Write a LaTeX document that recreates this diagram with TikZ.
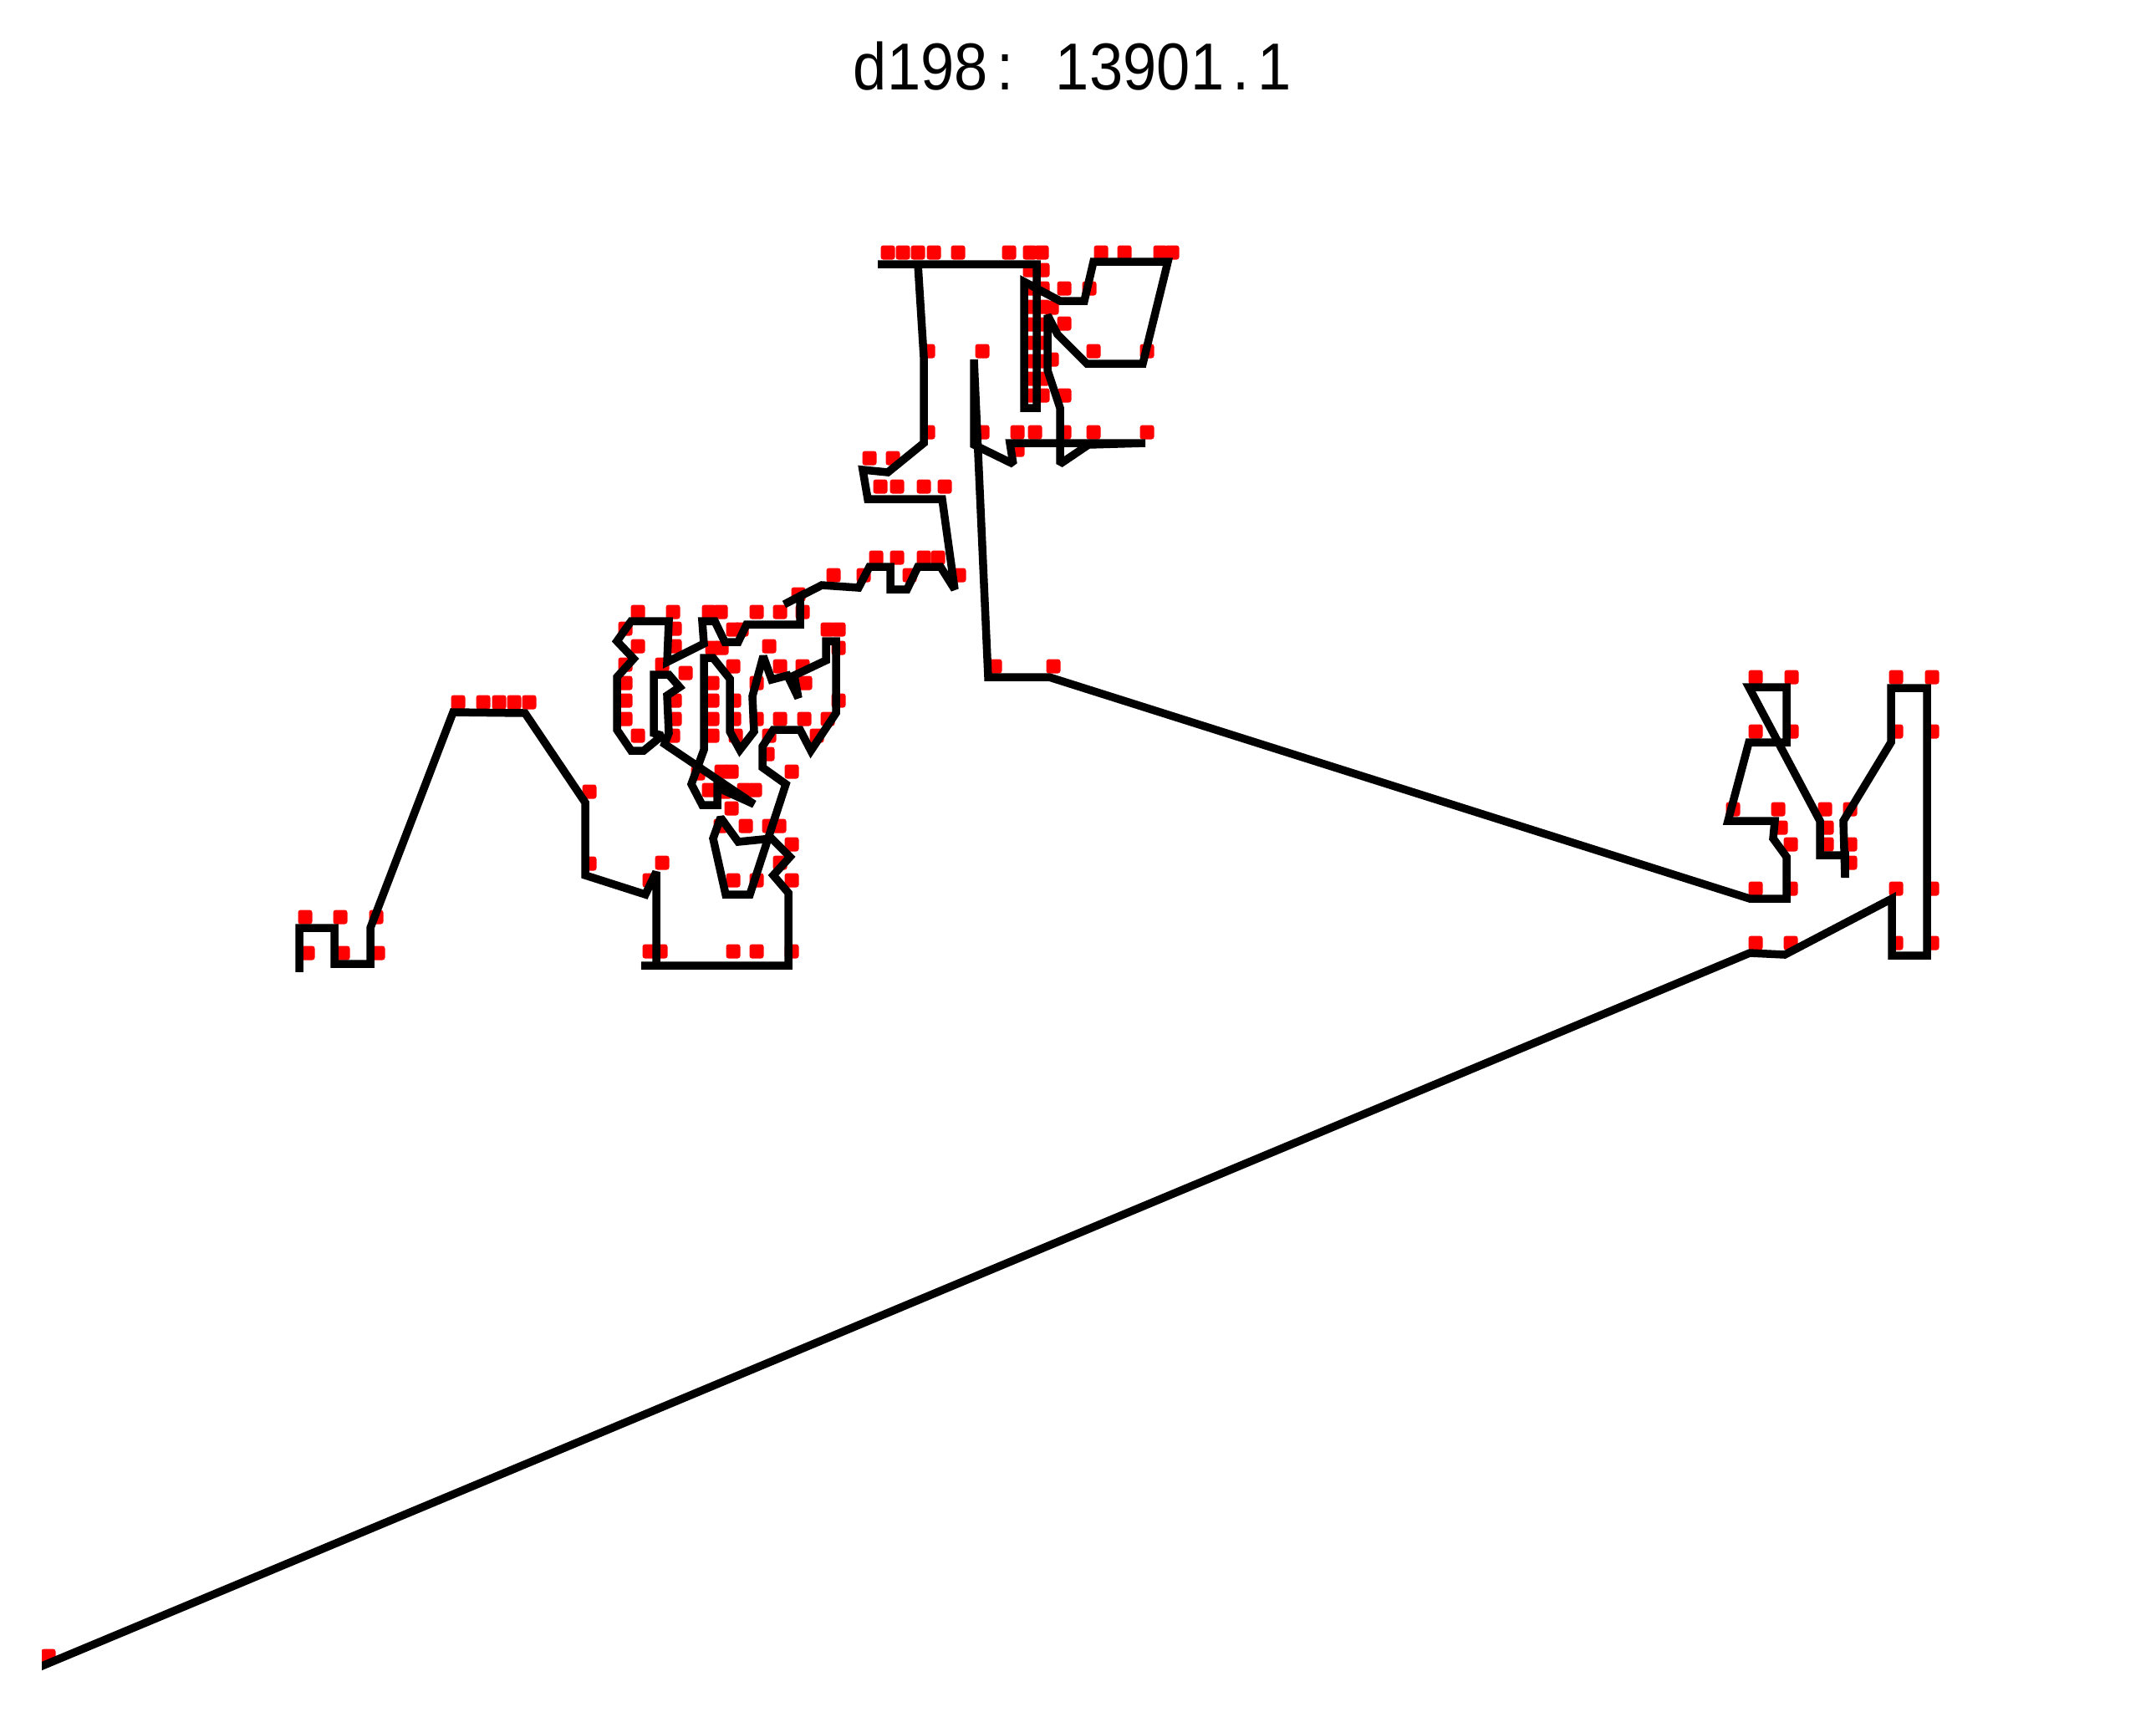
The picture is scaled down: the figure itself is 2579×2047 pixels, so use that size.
\documentclass[tikz,border=0pt]{standalone}
\usepackage{fontspec}
\setmainfont{Liberation Sans}
\usetikzlibrary{calc}

\tikzset{
  tour/.style={line width=0.095cm, line cap=rect, line join=miter, miter limit=2},
  city/.style={fill=red, rounded corners=0.03cm},
}
\newcommand\tch[1]{\makebox[0.443cm]{#1}}

\begin{document}
\begin{tikzpicture}[x=0.01cm,y=-0.01cm]
    \useasboundingbox (0,0) rectangle (2579,2047);
    \node [anchor=base, inner sep=0pt, font=\fontsize{22.6}{27}\selectfont] (title) at (1283,107)
      {\scalebox{0.91}[1]{\tch{d}\tch{1}\tch{9}\tch{8}\tch{:}\tch{ }\tch{1}\tch{3}\tch{9}\tch{0}\tch{1}\tch{.}\tch{1}}};
    \begin{scope}
      \clip (50,0) rectangle (2579,2047);
      % cities
      \foreach \cx/\cy in {58/1981,
        1062/302,1080/302,1098/302,1117/302,1146/302,1207/302,1232/302,1246/302,1317/302,1345/302,1388/302,1402/302,
        1232/323,1232/345,1232/367,1232/388,1232/410,1232/432,1232/453,1232/473,
        1247/323,1247/345,1247/367,1247/388,1247/410,1247/432,1247/453,1247/473,
        1273/345,1303/345,1258/368,1273/387,1258/430,1308/420,1372/420,1273/473,1110/420,1175/420,
        1110/517,1175/517,1217/517,1238/517,1273/517,1308/517,1372/517,1217/538,1040/548,1068/548,
        1053/582,1073/582,1105/582,1130/582,1048/667,1073/667,1105/667,1122/667,1147/688,1033/688,
        1088/688,1190/797,1260/797,
        763/732,805/732,848/732,862/732,905/732,933/732,960/732,955/711,997/688,
        748/752,807/752,877/753,887/753,990/753,1003/753,
        763/773,807/773,852/775,863/775,920/773,1003/775,
        748/795,792/795,820/805,877/797,933/797,960/797,
        748/817,852/817,905/817,963/817,
        748/838,807/838,852/838,878/838,1003/838,
        748/860,807/860,852/860,878/860,905/860,933/860,962/860,990/860,
        763/880,805/880,852/880,880/880,920/880,977/880,
        918/902,863/923,875/923,947/923,835/925,848/945,867/947,890/945,903/945,875/967,
        862/988,892/988,920/988,932/988,947/1010,933/1032,947/1053,877/1053,905/1053,777/1053,
        792/1032,777/1138,790/1138,877/1138,905/1138,947/1138,
        548/840,578/840,597/840,615/840,633/840,705/947,705/1033,
        365/1097,407/1097,450/1097,368/1140,410/1140,452/1140,
        2100/810,2143/810,2268/810,2311/810,2100/875,2143/875,2268/875,2311/875,
        2073/968,2127/968,2183/968,2213/968,2130/990,2185/990,2142/1010,2185/1010,2213/1010,2213/1032,
        2100/1063,2142/1063,2268/1063,2311/1063,2100/1128,2142/1128,2268/1128,2311/1128}
        \fill [city] (\cx-8.5,\cy-8.5) rectangle ++(17,17);
      % tour
      \draw [tour] plot coordinates {
        (50,1993) (2093,1140) (2135,1142) (2263,1075) (2263,1143) (2305,1143) (2305,823)
        (2262,823) (2262,888) (2205,982) (2207,1050) (2207,1023) (2177,1023) (2177,982)
        (2092,822) (2137,822) (2137,888) (2092,888) (2067,982) (2123,982) (2121,1003)
        (2137,1025) (2137,1075) (2093,1075)
        (1255,810) (1182,810) (1165,430) (1165,532) (1212,555) (1208,530) (1370,530)
        (1302,532) (1268,555) (1268,488) (1253,443) (1253,377) (1265,400) (1300,435)
        (1367,435) (1397,313) (1308,313) (1297,360) (1268,360) (1225,337) (1225,488)
        (1240,488) (1240,316) (1050,316) (1098,316) (1105,427) (1105,530) (1062,565)
        (1032,562) (1038,597) (1127,597) (1142,705) (1125,678) (1098,678) (1085,705)
        (1065,705) (1065,678) (1040,678) (1027,703) (983,700) (938,723) (957,713)
        (957,747) (893,747) (883,768) (867,768) (855,743) (840,743) (842,770) (798,792)
        (800,743) (755,743) (738,767) (758,788) (738,810) (738,873) (755,898) (770,898)
        (792,880) (782,877) (782,807) (800,807) (813,822) (798,832) (800,877) (795,890)
        (902,962) (858,942) (858,963) (840,963) (827,938) (842,897) (842,787) (853,787)
        (873,812) (873,875) (885,897) (902,875) (900,833) (913,785) (923,813) (942,808)
        (955,835) (950,808) (988,790) (988,767) (1000,767) (1000,853) (970,898) (957,873)
        (925,873) (912,893) (912,918) (940,938) (897,1070) (868,1070) (853,1003) (862,978)
        (883,1007) (923,1003) (945,1025) (925,1047) (943,1068) (943,1155) (767,1155)
        (785,1155) (785,1043) (772,1070) (700,1047) (700,960) (628,853) (542,852)
        (443,1110) (443,1153) (400,1153) (400,1110) (358,1110) (358,1158)};
    \end{scope}
\end{tikzpicture}
\end{document}
